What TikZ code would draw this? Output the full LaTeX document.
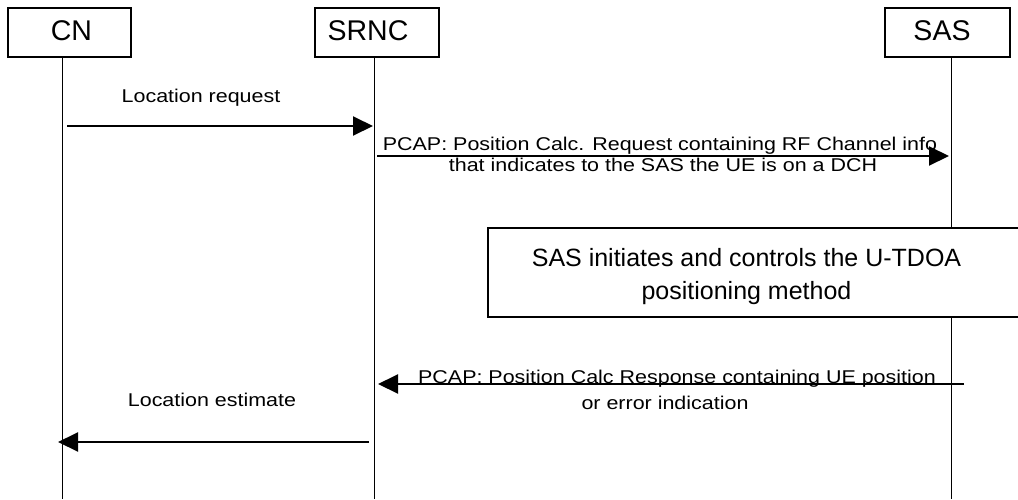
\documentclass[tikz,border=0pt]{standalone}
\usepackage{fontspec}
\setmainfont{Liberation Sans}
\newfontfamily\lblfont{Liberation Sans}[FakeStretch=1.16]
\usetikzlibrary{arrows.meta}
\tikzset{
  hdr/.style={draw=black, line width=1.2pt, fill=white, minimum width=123pt, minimum height=49pt, inner sep=0pt},
  hdrtxt/.style={anchor=base, inner sep=0pt, font=\fontsize{28.5}{28}\selectfont},
  life/.style={draw=black, line width=0.8pt},
  msg/.style={draw=black, line width=2pt, -{Triangle[length=20pt,width=19pt]}},
  lbl/.style={anchor=base, inner sep=0pt, font=\lblfont\fontsize{18.5}{20}\selectfont},
  proc/.style={draw=black, line width=2pt, fill=white},
  proctxt/.style={anchor=base, inner sep=0pt, font=\fontsize{25}{27}\selectfont}
}
\begin{document}
\begin{tikzpicture}[x=1pt,y=-1pt]
\useasboundingbox (0,0) rectangle (1018,499);
% lifeline bottoms
\coordinate (cnb) at (62,499);
\coordinate (srncb) at (374,499);
\coordinate (sasb) at (951,499);
% headers
\node[hdr] (cn) at (69.5,32.5) {};
\node[hdr, minimum width=124pt] (srnc) at (377,32.5) {};
\node[hdr, minimum width=125pt] (sas) at (947.5,32.5) {};
\node[hdrtxt] (cnt) at (71.5,40) {CN};
\node[hdrtxt] (srnct) at (368,40) {SRNC};
\node[hdrtxt] (sast) at (942,40) {SAS};
% lifelines
\draw[life] (cnb |- cn.south) -- (cnb);
\draw[life] (srncb |- srnc.south) -- (srncb);
\draw[life] (sasb |- sas.south) -- (sasb);
% message 1
\coordinate (m1s) at (67,126);
\coordinate (m1e) at (373,126);
\draw[msg] (m1s) -- (m1e);
\node[lbl] (m1l) at (201,102) {Location request};
% message 2
\coordinate (m2s) at (377,156);
\coordinate (m2e) at (949,156);
\draw[msg] (m2s) -- (m2e);
\node[lbl] (m2l1) at (660,150.5) {PCAP: Position Calc. Request containing RF Channel info};
\node[lbl] (m2l2) at (663,171) {that indicates to the SAS the UE is on a DCH};
% process box
\draw[proc] (488,228) rectangle (1026,317);
\node[proctxt] (p1) at (746.5,266) {SAS initiates and controls the U-TDOA};
\node[proctxt] (p2) at (746.5,299.5) {positioning method};
% message 3
\coordinate (m3s) at (964,384);
\coordinate (m3e) at (378,384);
\draw[msg] (m3s) -- (m3e);
\node[lbl] (m3l1) at (677,383) {PCAP: Position Calc Response containing UE position};
\node[lbl] (m3l2) at (665,409) {or error indication};
% message 4
\coordinate (m4s) at (369,442);
\coordinate (m4e) at (58,442);
\draw[msg] (m4s) -- (m4e);
\node[lbl] (m4l) at (212,406.5) {Location estimate};
\end{tikzpicture}
\end{document}
